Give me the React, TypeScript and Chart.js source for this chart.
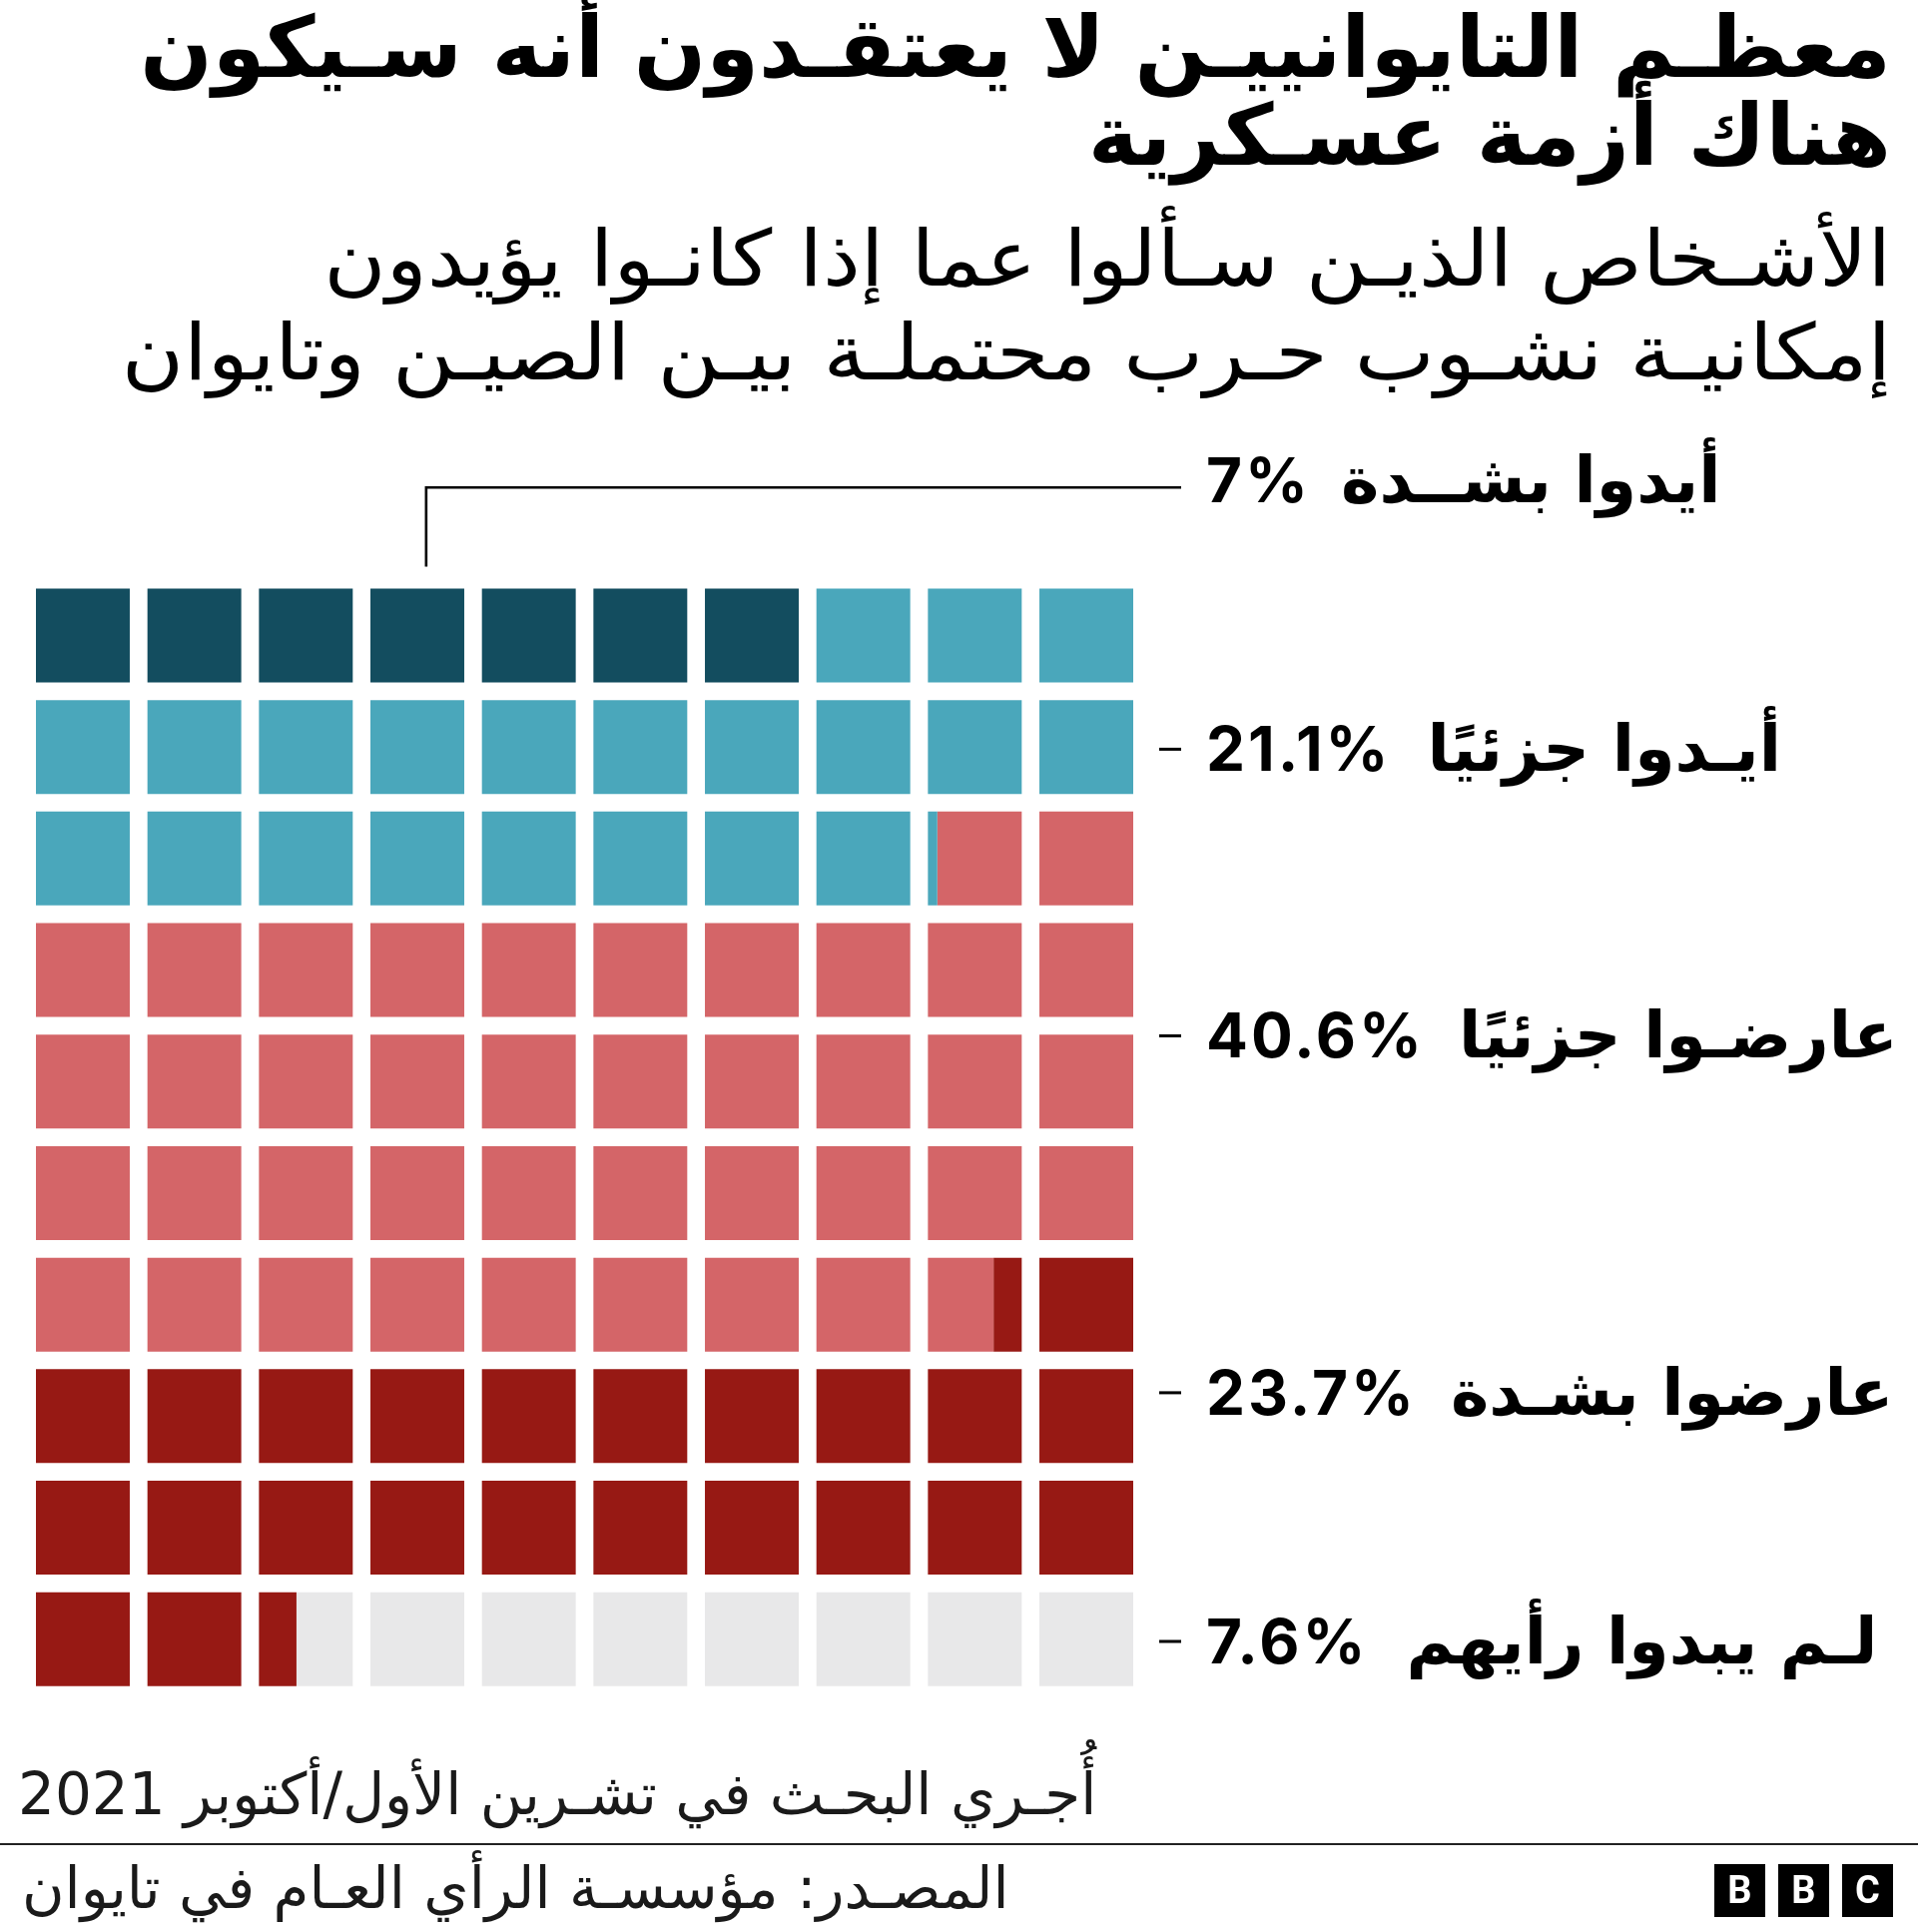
import React, { useEffect, useRef } from "react";
import { Chart, registerables } from "chart.js";

Chart.register(...registerables);

// ---------- data ----------
const CATEGORIES = [
  "أيدوا بشــدة",
  "أيـدوا جزئيًا",
  "عارضـوا جزئيًا",
  "عارضوا بشـدة",
  "لـم يبدوا رأيهم",
];
const VALUES = [7, 21.1, 40.6, 23.7, 7.6];
const VALUE_LABELS = ["7%", "21.1%", "40.6%", "23.7%", "7.6%"];
const COLORS = ["#134d5f", "#4aa7bb", "#d46568", "#971914", "#e8e8e9"];
const ROWS = ["1", "2", "3", "4", "5", "6", "7", "8", "9", "10"];
const COLUMNS = 10;

const TITLE_LINES = ["معظـم التايوانييـن لا يعتقـدون أنه سـيكون", "هناك أزمة عسـكرية"];
const SUBTITLE_LINES = [
  "الأشـخاص الذيـن سـألوا عما إذا كانـوا يؤيدون",
  "إمكانيـة نشـوب حـرب محتملـة بيـن الصيـن وتايوان",
];
const NOTE = "أُجـري البحـث في تشـرين الأول/أكتوبر 2021";
const SOURCE = "المصـدر: مؤسسـة الرأي العـام في تايوان";

// ---------- layout constants ----------
const CELL = 0.8415; // cell width as fraction of a column pitch
const BAR_FRAC = 0.8415; // cell height as fraction of a row pitch
const LABEL_ROW_POS = [-1.39, 1.02, 3.59, 6.79, 9.02];
const LABEL_GAP = [30, 36, 34, 34, 38];
const AR_FONT = '"DejaVu Sans", "Noto Sans", sans-serif';
const NUM_FONT = 'Inter, "DejaVu Sans", sans-serif';

function buildDatasets() {
  const bounds: number[] = [];
  let acc = 0;
  VALUES.forEach((v) => {
    bounds.push(acc);
    acc += v;
  });
  const datasets: any[] = [];
  VALUES.forEach((v, k) => {
    const start = bounds[k];
    const end = start + v;
    for (let c = 0; c < COLUMNS; c++) {
      const data: any[] = ROWS.map((_, r) => {
        const i0 = r * COLUMNS + c;
        const i1 = i0 + 1;
        const s = Math.max(start, i0);
        const e = Math.min(end, i1);
        if (e <= s) return null;
        return [c + (s - i0) * CELL, c + (e - i0) * CELL];
      });
      datasets.push({
        label: CATEGORIES[k],
        data,
        backgroundColor: COLORS[k],
        borderWidth: 0,
        grouped: false,
        barPercentage: BAR_FRAC,
        categoryPercentage: 1,
      });
    }
  });
  return datasets;
}

const labelPlugin = {
  id: "waffleLabels",
  afterDatasetsDraw(chart: any) {
    const { ctx, chartArea, scales } = chart;
    const ys = scales.y;
    const xs = scales.x;
    const y0 = ys.getPixelForValue(0);
    const pitch = ys.getPixelForValue(1) - y0;
    const rowTop = y0 - (pitch * BAR_FRAC) / 2;
    const numX = chartArea.right + 73;
    ctx.save();
    // connector for first group
    const firstCenter = xs.getPixelForValue(VALUES[0] / 2);
    const lineY = y0 + LABEL_ROW_POS[0] * pitch + 7;
    ctx.strokeStyle = "#000";
    ctx.lineWidth = 2.6;
    ctx.beginPath();
    ctx.moveTo(firstCenter, rowTop - 22);
    ctx.lineTo(firstCenter, lineY);
    ctx.lineTo(chartArea.right + 48, lineY);
    ctx.stroke();

    VALUE_LABELS.forEach((lab, k) => {
      const cy = y0 + LABEL_ROW_POS[k] * pitch;
      const base = cy + 22;
      if (k > 0) {
        ctx.fillStyle = "#000";
        ctx.fillRect(chartArea.right + 26, cy - 1.5, 22, 3);
      }
      ctx.fillStyle = "#000";
      ctx.direction = "ltr";
      ctx.textAlign = "left";
      ctx.textBaseline = "alphabetic";
      ctx.font = `bold 62px ${NUM_FONT}`;
      (ctx as any).letterSpacing = "3px";
      ctx.fillText(lab, numX, base);
      const w = ctx.measureText(lab).width;
      (ctx as any).letterSpacing = "0px";
      ctx.direction = "rtl";
      ctx.textAlign = "left";
      ctx.font = `bold 65px ${AR_FONT}`;
      ctx.fillText(CATEGORIES[k], numX + w + LABEL_GAP[k], base);
    });
    ctx.restore();
  },
};

export default function App() {
  const ref = useRef<HTMLCanvasElement | null>(null);
  useEffect(() => {
    if (!ref.current) return;
    const chart = new Chart(ref.current, {
      type: "bar",
      data: { labels: ROWS, datasets: buildDatasets() },
      options: {
        indexAxis: "y",
        animation: false,
        responsive: false,
        devicePixelRatio: 1,
        layout: { padding: { left: 36, right: 786, top: 580.6, bottom: 237.4 } },
        plugins: { legend: { display: false }, tooltip: { enabled: false } },
        scales: {
          x: { type: "linear", min: 0, max: COLUMNS - 1 + CELL, display: false },
          y: { type: "category", display: false, offset: true },
        },
      },
      plugins: [labelPlugin],
    });
    return () => chart.destroy();
  }, []);

  return (
    <div
      style={{
        position: "absolute",
        left: 0,
        top: 0,
        width: 1921,
        height: 1935,
        background: "#fff",
        overflow: "hidden",
      }}
    >
      <canvas ref={ref} width={1921} height={1935} style={{ position: "absolute", left: 0, top: 0 }} />
      <div
        dir="rtl"
        style={{
          position: "absolute",
          right: 27,
          top: 4,
          fontFamily: AR_FONT,
          fontWeight: "bold",
          fontSize: 85,
          lineHeight: "88px",
          textAlign: "right",
          whiteSpace: "nowrap",
          color: "#000",
        }}
      >
        {TITLE_LINES.map((l, i) => (
          <div key={i}>{l}</div>
        ))}
      </div>
      <div
        dir="rtl"
        style={{
          position: "absolute",
          right: 27,
          top: 212,
          fontFamily: AR_FONT,
          fontSize: 78,
          lineHeight: "94px",
          textAlign: "right",
          whiteSpace: "nowrap",
          color: "#000",
          transform: "scaleX(1.09)",
          transformOrigin: "right top",
        }}
      >
        {SUBTITLE_LINES.map((l, i) => (
          <div key={i}>{l}</div>
        ))}
      </div>
      <div
        dir="rtl"
        style={{
          position: "absolute",
          left: 18,
          top: 1762,
          fontFamily: AR_FONT,
          fontSize: 58,
          lineHeight: "70px",
          whiteSpace: "nowrap",
          color: "#1a1a1a",
        }}
      >
        {NOTE}
      </div>
      <div style={{ position: "absolute", left: 0, top: 1846, width: 1921, height: 2, background: "#222" }} />
      <div
        dir="rtl"
        style={{
          position: "absolute",
          left: 22,
          top: 1856,
          fontFamily: AR_FONT,
          fontSize: 58,
          lineHeight: "70px",
          whiteSpace: "nowrap",
          color: "#1a1a1a",
        }}
      >
        {SOURCE}
      </div>
      <div style={{ position: "absolute", left: 1717, top: 1867, display: "flex", gap: 13 }}>
        {["B", "B", "C"].map((ch, i) => (
          <div
            key={i}
            style={{
              width: 51,
              height: 53,
              background: "#000",
              color: "#fff",
              fontFamily: "Roboto, sans-serif",
              fontWeight: "bold",
              fontSize: 38,
              lineHeight: "53px",
              textAlign: "center",
            }}
          >
            {ch}
          </div>
        ))}
      </div>
    </div>
  );
}
